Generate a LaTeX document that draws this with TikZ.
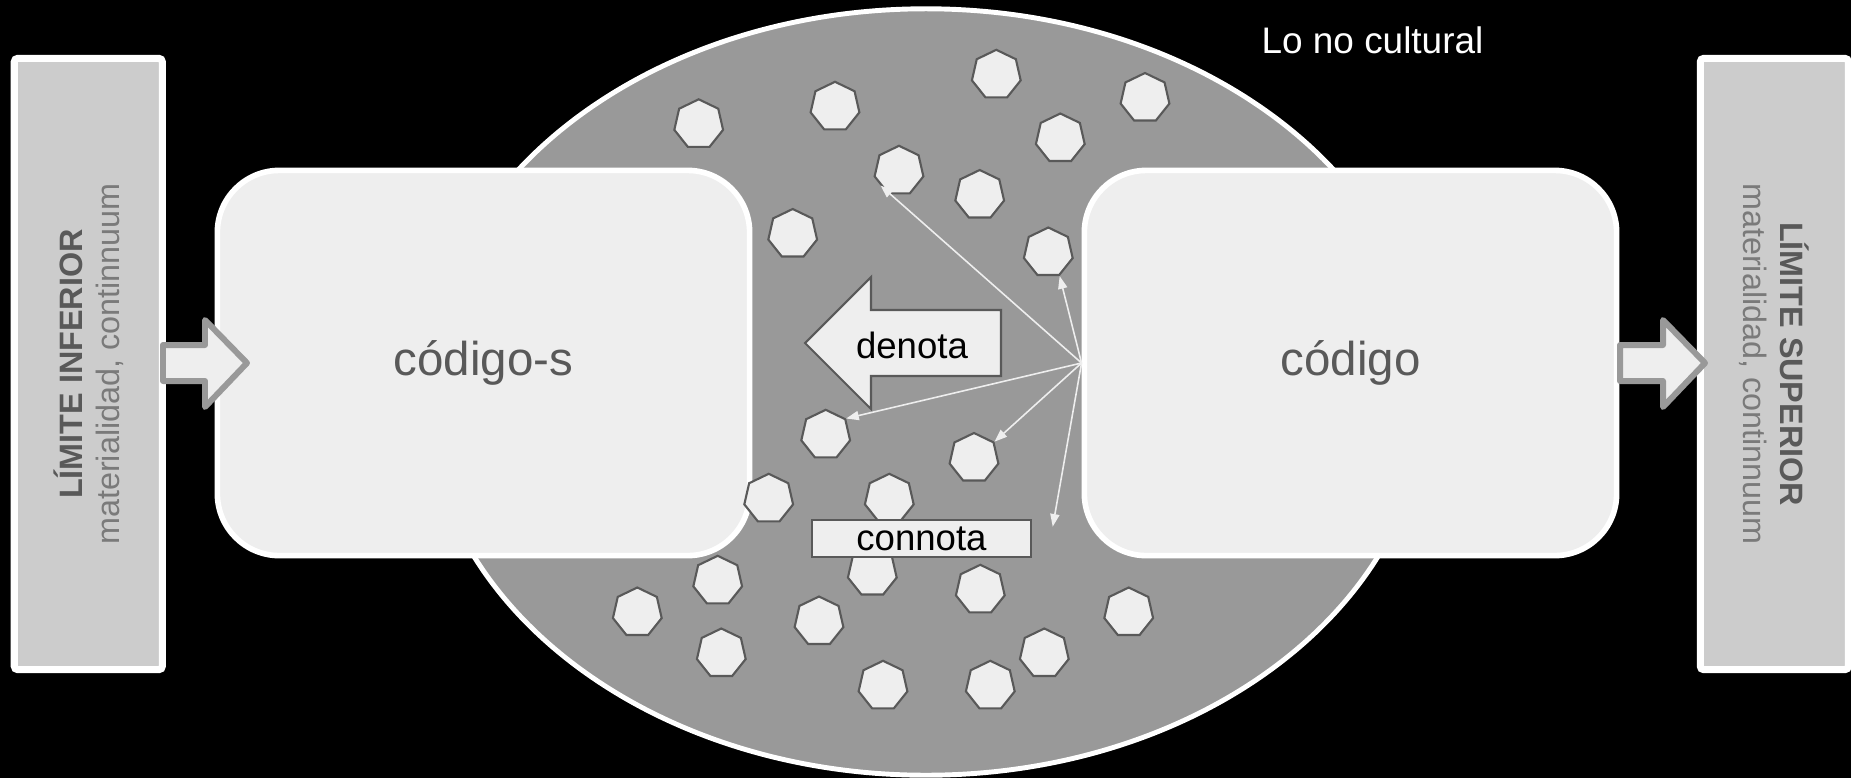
\documentclass[tikz,border=0pt]{standalone}
\usepackage{fontspec}
\setmainfont{Liberation Sans}
\usetikzlibrary{shapes.geometric, arrows.meta}

\definecolor{paper}{HTML}{EEEEEE}
\definecolor{field}{HTML}{999999}
\definecolor{limit}{HTML}{CCCCCC}
\definecolor{ink}{HTML}{595959}
\definecolor{faint}{HTML}{7A7A7A}

\tikzset{
    codebox/.style={draw=white, line width=1.6pt, fill=paper, rounded corners=0.62cm,
        minimum width=5.32cm, minimum height=3.85cm, text=ink,
        font=\fontsize{13.5}{16}\selectfont},
    limitbox/.style={draw=white, line width=2pt, fill=limit, rounded corners=1pt,
        minimum width=6.11cm, minimum height=1.48cm, align=center, inner sep=0pt,
        text=ink, font=\fontsize{9.2}{10.5}\selectfont},
    hept/.style={regular polygon, regular polygon sides=7, minimum size=0.5cm,
        inner sep=0pt, draw=ink, fill=paper, line width=0.6pt},
    fatarrow/.style={draw=field, line width=1.7pt, fill=paper, line join=round},
    link/.style={draw=paper, line width=0.45pt, -{Triangle[length=3.6pt,width=2.6pt]}},
    tag/.style={font=\fontsize{10.4}{12}\selectfont, text=black}
}

\begin{document}
\begin{tikzpicture}[x=0.01cm, y=-0.01cm]
    \useasboundingbox (0,0) rectangle (1851,778);
    \fill[black] (0,0) rectangle (1851,778);

    % lo no cultural
    \draw[white, line width=1.4pt, fill=field] (926,392) ellipse [x radius=5cm, y radius=3.83cm];
    \node[anchor=base, text=white, font=\fontsize{10.5}{12}\selectfont] (nocultural) at (1372.5,53) {Lo no cultural};

    % limits
    \node[limitbox, rotate=90] (inferior) at (88.3,364) {\textbf{LÍMITE INFERIOR}\\{\color{faint}materialidad, continnuum}};
    \node[limitbox, rotate=-90] (superior) at (1774.3,364) {\textbf{LÍMITE SUPERIOR}\\{\color{faint}materialidad, continnuum}};

    \node[codebox] (cods) at (483.5,363) {código-s};
    \node[codebox] (cod) at (1350.5,363) {código};

    \draw[fatarrow] (163,345) -- (205,345) -- (205,320) -- (247,363) -- (205,407) -- (205,381) -- (163,381) -- cycle;
    \draw[fatarrow] (1620,345) -- (1663,345) -- (1663,320) -- (1705,363) -- (1663,407) -- (1663,381) -- (1620,381) -- cycle;

    \foreach \n/\x/\y in {1/698.7/124.3, 2/835/106.8, 3/996.3/74.8, 4/1145/98, 5/1060.3/138.5,
        6/899/170.8, 7/979.7/195, 8/792.7/234, 9/1048.3/252.5, 10/825.7/434.8, 11/974/458,
        12/768.7/498.8, 13/889.3/498.8, 14/872.3/572, 15/717.7/580.8, 16/637.3/612.5,
        17/980.3/589.8, 18/1128.7/612.5, 19/819/621.5, 20/721.3/653.5, 21/1044.3/653.5,
        22/883/685.8, 23/990.3/685.8}
        \node[hept] (h\n) at (\x,\y) {};

    % denota / connota
    \coordinate (loose) at (1052.7,526.7);
    \draw[link] (cod.west) -- (h6.side 3);
    \draw[link] (cod.west) -- (h9.corner 5);
    \draw[link] (cod.west) -- (h10.corner 7);
    \draw[link] (cod.west) -- (h11.corner 7);
    \draw[link] (cod.west) -- (loose);

    \draw[draw=ink, fill=paper, line width=0.6pt] (1001,310) -- (871,310) -- (871,277) -- (805,343) -- (871,409) -- (871,376) -- (1001,376) -- cycle;
    \node[tag, anchor=base] (denota) at (912,358) {denota};
    \node[tag, draw=ink, fill=paper, line width=0.6pt, minimum width=2.19cm, minimum height=0.37cm, inner sep=0pt] (connota) at (921.5,538.5) {connota};
\end{tikzpicture}
\end{document}
